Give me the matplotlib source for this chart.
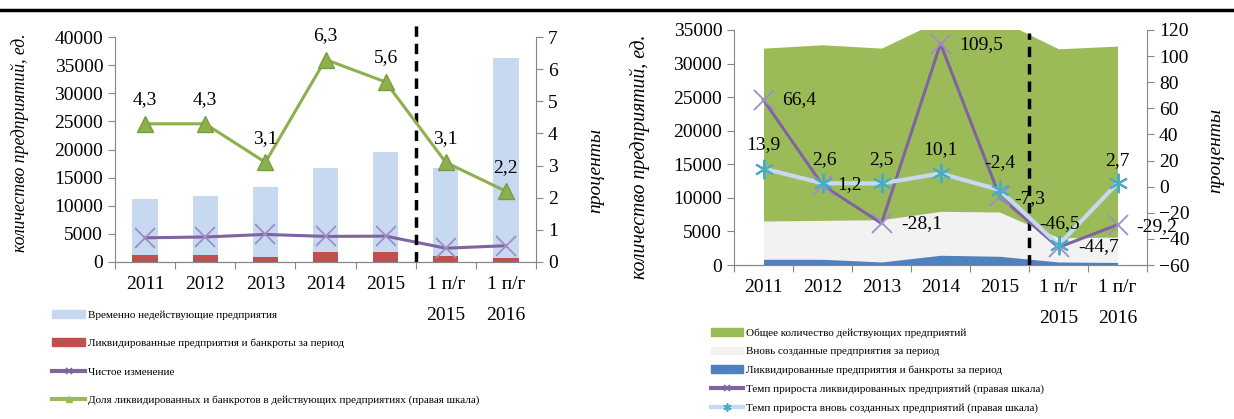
import numpy as np
import matplotlib.pyplot as plt
from matplotlib.lines import Line2D
from matplotlib.patches import Patch

plt.rcParams['font.family'] = ['Liberation Serif', 'DejaVu Serif']

cats = ['2011', '2012', '2013', '2014', '2015', '1 п/г\n2015', '1 п/г\n2016']

# left chart
inactive = [11200, 11700, 13300, 16700, 19500, 16700, 36300]
liquid_bars = [1200, 1200, 900, 1800, 1750, 1000, 700]
net_change = [4300, 4450, 4900, 4550, 4600, 2450, 2900]
share = [4.3, 4.3, 3.1, 6.3, 5.6, 3.1, 2.2]

# right chart
active_total = [32300, 32800, 32300, 36500, 36500, 32200, 32600]
new_firms = [6550, 6650, 6750, 7990, 7890, 4070, 4150]
liquid_area = [850, 850, 450, 1450, 1300, 450, 380]
liq_growth = [66.4, 1.2, -28.1, 109.5, -7.3, -46.5, -29.2]
new_growth = [13.9, 2.6, 2.5, 10.1, -2.4, -44.7, 2.7]

grey = '#868686'
W, H = 1234, 419
fig = plt.figure(figsize=(W / 100, H / 100), dpi=100)

def px_axes(x0, x1, ytop, ybot):
    return fig.add_axes([x0 / W, 1 - ybot / H, (x1 - x0) / W, (ybot - ytop) / H])

def style(ax, ax2):
    for a in (ax, ax2):
        a.spines['top'].set_visible(False)
        for s in ('left', 'right', 'bottom'):
            a.spines[s].set_color(grey)
        a.tick_params(which='both', colors=grey, labelcolor='black', labelsize=14, length=5)
    ax2.spines['left'].set_visible(False)
    ax.spines['right'].set_visible(False)
    x = np.arange(len(cats))
    ax.set_xlim(-0.5, len(cats) - 0.5)
    ax.set_xticks(np.arange(-0.5, len(cats)), [''] * (len(cats) + 1))
    ax.set_xticks(x, cats, minor=True)
    ax.tick_params(axis='x', which='minor', length=0, pad=10)
    for t in ax.get_xticklabels(minor=True):
        t.set_linespacing(2.05)
        t.set_va('top')

x = np.arange(len(cats))

# ---------- left chart ----------
ax = px_axes(115, 536, 37, 262)
ax2 = ax.twinx()
ax.bar(x, inactive, width=0.42, color='#c6d9f1', zorder=1)
ax.bar(x, liquid_bars, width=0.42, color='#c0504d', zorder=2)
ax.plot(x, net_change, color='#8064a2', lw=2.2, marker='x', ms=14,
        mec='#a08cc8', mew=1.3, zorder=3)
ax2.plot(x, share, color='#8db04f', lw=2.2, marker='^', ms=12,
         mfc='#8db04f', mec='#7a9c40', zorder=3)
for xi, v in zip(x, share):
    ax2.annotate(f'{v:.1f}'.replace('.', ','), (xi, v), xytext=(0, 24),
                 textcoords='offset pixels', ha='center', va='center', fontsize=14)
ax.set_ylim(0, 40000)
ax.set_yticks(range(0, 40001, 5000))
ax2.set_ylim(0, 7)
ax2.set_yticks(range(0, 8))
style(ax, ax2)
ax.axvline(4.5, ymin=0, ymax=(262 - 23) / 225, color='black', lw=2.5,
           ls=(0, (3, 2)), clip_on=False, zorder=5)
fig.text(20 / W, 1 - 143 / H, 'количество предприятий, ед.', rotation=90,
         style='italic', fontsize=12.7, ha='center', va='center')
fig.text(596 / W, 1 - 170 / H, 'проценты', rotation=90,
         style='italic', fontsize=14, ha='center', va='center')

h_left = [Patch(color='#c6d9f1'), Patch(color='#c0504d'),
          Line2D([], [], color='#8064a2', lw=3, marker='x', ms=5, mew=1.2),
          Line2D([], [], color='#9bbb59', lw=3, marker='^', ms=5)]
l_left = ['Временно недействующие предприятия',
          'Ликвидированные предприятия и банкроты за период',
          'Чистое изменение',
          'Доля ликвидированных и банкротов в действующих предприятиях (правая шкала)']
fig.legend(h_left, l_left, loc='upper left', bbox_to_anchor=(52 / W, 1 - 310 / H),
           frameon=False, fontsize=8, handlelength=3.0, handleheight=0.7,
           handletextpad=0.25, labelspacing=1.68, borderaxespad=0, borderpad=0)

# ---------- right chart ----------
bx = px_axes(734, 1147, 30, 265)
bx2 = bx.twinx()
bx.fill_between(x, 0, active_total, color='#9bbb59', lw=0, zorder=1)
bx.fill_between(x, 0, new_firms, color='#f2f2f2', lw=0, zorder=2)
bx.fill_between(x, 0, liquid_area, color='#4f81bd', lw=0, zorder=3)
bx.set_ylim(0, 35000)
bx.set_yticks(range(0, 35001, 5000))
bx2.plot(x, liq_growth, color='#8064a2', lw=2.2, marker='x', ms=14,
         mec='#a08cc8', mew=1.3, zorder=3)
bx2.plot(x, new_growth, color='#c6d9f1', lw=3, marker=(6, 2, 0), ms=14,
         mec='#4bacc6', mew=1.5, zorder=4)
bx2.set_ylim(-60, 120)
bx2.set_yticks(range(-60, 121, 20))
style(bx, bx2)

liq_off = [(36, 0), (27, 1), (40, 0), (41, -1), (30, -2), (1, 24), (39, -2)]
new_off = [(0, 24), (2, 24), (0, 24), (0, 24), (0, 27), (40, -2), (0, 23)]
for xi, v, o in zip(x, liq_growth, liq_off):
    bx2.annotate(f'{v:.1f}'.replace('.', ','), (xi, v), xytext=o,
                 textcoords='offset pixels', ha='center', va='center',
                 fontsize=14, zorder=6, annotation_clip=False)
for xi, v, o in zip(x, new_growth, new_off):
    bx2.annotate(f'{v:.1f}'.replace('.', ','), (xi, v), xytext=o,
                 textcoords='offset pixels', ha='center', va='center',
                 fontsize=14, zorder=6, annotation_clip=False)
bx.axvline(4.5, ymin=0, ymax=(265 - 33) / 235, color='black', lw=2.5,
           ls=(0, (3, 2)), clip_on=False, zorder=5)
fig.text(640 / W, 1 - 157 / H, 'количество предприятий, ед.', rotation=90,
         style='italic', fontsize=14.2, ha='center', va='center')
fig.text(1216 / W, 1 - 150 / H, 'проценты', rotation=90,
         style='italic', fontsize=14, ha='center', va='center')

h_right = [Patch(color='#9bbb59'), Patch(color='#f2f2f2'), Patch(color='#4f81bd'),
           Line2D([], [], color='#8064a2', lw=3, marker='x', ms=5, mew=1.2),
           Line2D([], [], color='#c6d9f1', lw=3, marker=(6, 2, 0), ms=6,
                  mec='#4bacc6', mew=1.2)]
l_right = ['Общее количество действующих предприятий',
           'Вновь созданные предприятия за период',
           'Ликвидированные предприятия и банкроты за период',
           'Темп прироста ликвидированных предприятий (правая шкала)',
           'Темп прироста вновь созданных предприятий (правая шкала)']
fig.legend(h_right, l_right, loc='upper left', bbox_to_anchor=(711 / W, 1 - 328 / H),
           frameon=False, fontsize=8, handlelength=2.9, handleheight=0.7,
           handletextpad=0.25, labelspacing=0.8, borderaxespad=0, borderpad=0)

fig.add_artist(Line2D([0, 1], [1 - 10.5 / H, 1 - 10.5 / H], color='black', lw=2.5))

fig.savefig('out.png', dpi=100)
